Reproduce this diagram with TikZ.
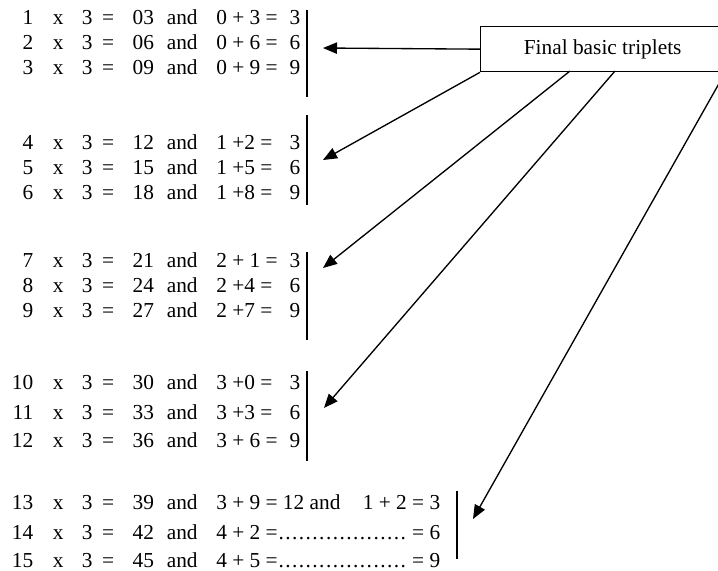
\documentclass[tikz,border=0pt]{standalone}
\usepackage{fontspec}
\setmainfont{Liberation Serif}
\usetikzlibrary{arrows.meta}
\newlength\px \setlength\px{0.75pt}
\newcommand\trow[3]{\makebox[33\px][r]{#1}\makebox[50\px]{x}\makebox[8\px]{3}\makebox[34\px]{=}\makebox[36\px]{#2}\makebox[42\px]{and}\hspace{13\px}#3}
\newcommand\ex[2]{\makebox[84\px][l]{#1\hfill #2}}
\newcommand\dotrow{\xleaders\hbox to 6.5\px{\hss.\hss}\hfill}
\begin{document}
\begin{tikzpicture}[x=0.75pt,y=-0.75pt,
  rowtxt/.style={anchor=base west,inner sep=0pt,font=\fontsize{16}{19}\selectfont},
  bar/.style={line width=1.5pt},
  arr/.style={line width=1pt,-{Triangle[length=10.5pt,width=8.5pt]}},
  boxstyle/.style={draw,line width=1pt,anchor=north west,inner sep=0pt,
    minimum width=244\px,minimum height=45\px,font=\fontsize{16}{19}\selectfont}]
\useasboundingbox (0,0) rectangle (718,571);
% rows (baseline = center + 7)
\node[rowtxt] (r1)  at (0,24)  {\trow{1}{03}{\ex{0 + 3 =}{3}}};
\node[rowtxt] (r2)  at (0,49)  {\trow{2}{06}{\ex{0 + 6 =}{6}}};
\node[rowtxt] (r3)  at (0,74)  {\trow{3}{09}{\ex{0 + 9 =}{9}}};
\node[rowtxt] (r4)  at (0,149) {\trow{4}{12}{\ex{1 +2 =}{3}}};
\node[rowtxt] (r5)  at (0,174) {\trow{5}{15}{\ex{1 +5 =}{6}}};
\node[rowtxt] (r6)  at (0,199) {\trow{6}{18}{\ex{1 +8 =}{9}}};
\node[rowtxt] (r7)  at (0,267) {\trow{7}{21}{\ex{2 + 1 =}{3}}};
\node[rowtxt] (r8)  at (0,292) {\trow{8}{24}{\ex{2 +4 =}{6}}};
\node[rowtxt] (r9)  at (0,317) {\trow{9}{27}{\ex{2 +7 =}{9}}};
\node[rowtxt] (r10) at (0,389) {\trow{10}{30}{\ex{3 +0 =}{3}}};
\node[rowtxt] (r11) at (0,419) {\trow{11}{33}{\ex{3 +3 =}{6}}};
\node[rowtxt] (r12) at (0,447) {\trow{12}{36}{\ex{3 + 6 =}{9}}};
\node[rowtxt] (r13) at (0,509) {\trow{13}{39}{\makebox[224\px][l]{3 + 9 = 12 and\hspace{10\px}\hfill 1 + 2 = 3}}};
\node[rowtxt] (r14) at (0,539) {\trow{14}{42}{\makebox[224\px][l]{4 + 2 =\dotrow\ = 6}}};
\node[rowtxt] (r15) at (0,567) {\trow{15}{45}{\makebox[224\px][l]{4 + 5 =\dotrow\ = 9}}};
% bars
\draw[bar] (307,10) -- (307,97);
\draw[bar] (307,115) -- (307,205);
\draw[bar] (307,252) -- (307,340);
\draw[bar] (307,371) -- (307,461);
\draw[bar] (457,491) -- (457,559);
% box (its right end runs past the picture's edge)
\node[boxstyle] (box) at (480,26) {Final basic triplets};
% arrow tips
\coordinate (t1) at (323,48);
\coordinate (t2) at (323,160);
\coordinate (t3) at (323,268);
\coordinate (t4) at (324,408);
\coordinate (t5) at (473,519);
\coordinate (s3) at (570,71);
\coordinate (s4) at (615,71);
\draw[arr] (box.west) -- (t1);
\draw[arr] (box.south west) -- (t2);
\draw[arr] (s3) -- (t3);
\draw[arr] (s4) -- (t4);
\draw[arr] (box.south east) -- (t5);
\end{tikzpicture}
\end{document}
